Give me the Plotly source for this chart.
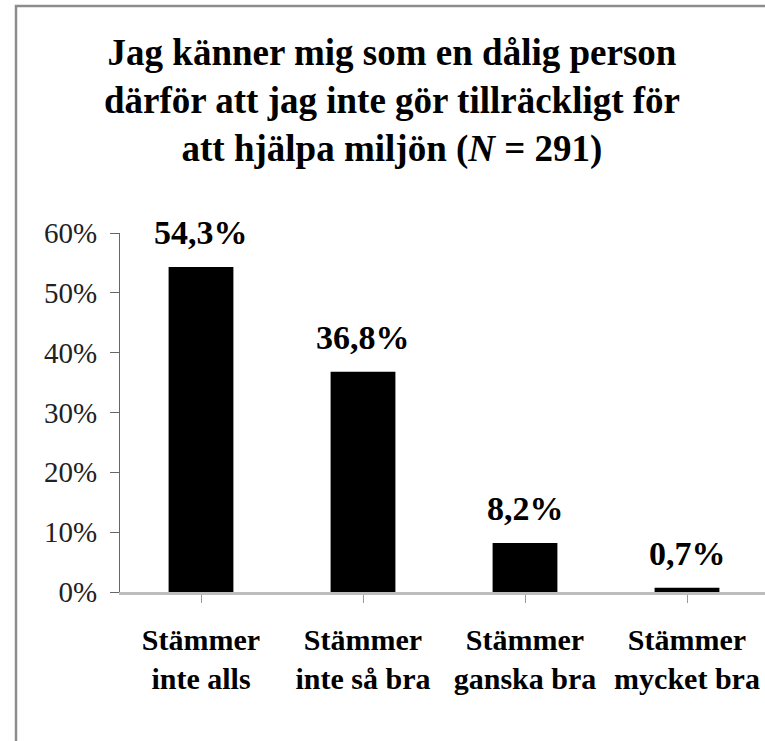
import plotly.graph_objects as go

categories = ["Stämmer<br>inte alls", "Stämmer<br>inte så bra", "Stämmer<br>ganska bra", "Stämmer<br>mycket bra"]
values = [54.3, 36.8, 8.2, 0.7]
value_labels = ["54,3%", "36,8%", "8,2%", "0,7%"]
y_ticks = [0, 10, 20, 30, 40, 50, 60]
y_tick_labels = ["0%", "10%", "20%", "30%", "40%", "50%", "60%"]
title_text = "Jag känner mig som en dålig person<br>därför att jag inte gör tillräckligt för<br>att hjälpa miljön (<i>N</i> = 291)"

FONT = "Liberation Serif"
W, H = 765, 741
L, T, B = 120, 233, 149
plot_w = W - L
plot_h = H - T - B

fig = go.Figure()
fig.add_trace(go.Bar(
    x=list(range(len(categories))),
    y=values,
    width=0.4,
    marker=dict(color="#000000", line=dict(width=0)),
    hoverinfo="skip",
))

for i, (v, lab) in enumerate(zip(values, value_labels)):
    fig.add_annotation(
        x=i, y=v, text="<b>" + lab + "</b>", showarrow=False,
        xref="x", yref="y", yanchor="bottom", yshift=14,
        font=dict(family=FONT, size=34, color="#000000"),
    )

# outer frame (left and top edges visible)
x_left = (16 - L) / plot_w
y_top = (H - B - 6) / plot_h
fig.add_shape(type="rect", xref="paper", yref="paper",
              x0=x_left, x1=1.2, y0=-1.0, y1=y_top,
              line=dict(color="#8c8c8c", width=2.5), fillcolor="rgba(0,0,0,0)", layer="below")

fig.update_layout(
    width=W, height=H, autosize=False,
    margin=dict(l=L, r=0, t=T, b=B, pad=0),
    paper_bgcolor="white", plot_bgcolor="white",
    showlegend=False,
    title=dict(text="<b>" + title_text + "</b>", x=392 / W, xanchor="center",
               y=1 - 65 / H, yanchor="top", yref="container",
               font=dict(family=FONT, size=37, color="#000000")),
    xaxis=dict(
        range=[-0.5, -0.5 + plot_w / 162.0],
        tickmode="array", tickvals=list(range(len(categories))), ticktext=categories,
        tickson="boundaries", ticks="outside", ticklen=8, tickwidth=1.2, tickcolor="#999999",
        showline=True, linecolor="#bdbdbd", linewidth=2.5,
        showgrid=False, zeroline=False, fixedrange=True,
        tickfont=dict(family=FONT, size=30, color="#000000", weight="bold"),
        ticklabelstandoff=11,
    ),
    yaxis=dict(
        range=[0, 60], tickmode="array", tickvals=y_ticks, ticktext=y_tick_labels,
        ticks="outside", ticklen=9, tickwidth=1.2, tickcolor="#666666",
        showline=True, linecolor="#666666", linewidth=1.2,
        showgrid=False, zeroline=False, fixedrange=True,
        tickfont=dict(family=FONT, size=29, color="#222222"),
        ticklabelstandoff=7,
    ),
)

fig.write_html("out.html", config={"displayModeBar": False},
               post_script="document.body.style.margin='0';document.body.style.overflow='hidden';")
